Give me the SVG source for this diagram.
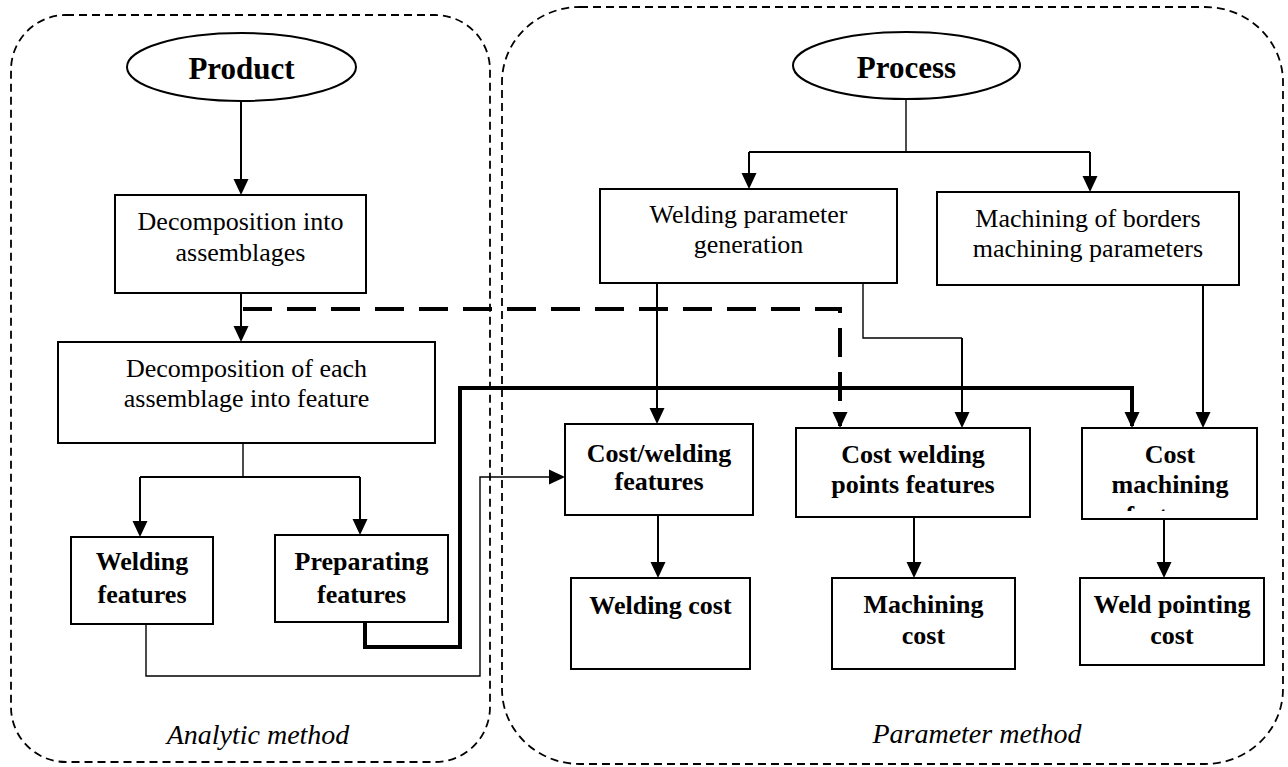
<svg xmlns="http://www.w3.org/2000/svg" width="1288" height="767" viewBox="0 0 1288 767">
<style>
.region{fill:none;stroke:#000;stroke-width:1.8;stroke-dasharray:8 5}
.box{fill:#fff;stroke:#000;stroke-width:2}
.t{font-family:"Liberation Serif","Times New Roman",serif;font-size:26px;text-anchor:middle;fill:#000}
.b{font-weight:bold}
.title{font-family:"Liberation Serif","Times New Roman",serif;font-size:31px;font-weight:bold;text-anchor:middle;fill:#000}
.cap{font-family:"Liberation Serif","Times New Roman",serif;font-size:28px;font-style:italic;text-anchor:middle;fill:#000}
.c{fill:none;stroke:#000;stroke-width:2}
.thin{fill:none;stroke:#000;stroke-width:1.4}
.thick{fill:none;stroke:#000;stroke-width:4}
.dash{fill:none;stroke:#000;stroke-width:4;stroke-dasharray:29 15}
</style>
<defs>
<marker id="ah" markerUnits="userSpaceOnUse" markerWidth="16" markerHeight="16" viewBox="0 0 16 16" refX="14" refY="8" orient="auto">
<path d="M0,0.5 L16,8 L0,15.5 z" fill="#000"/>
</marker>
<clipPath id="clipCM"><rect x="1082" y="428" width="175" height="83"/></clipPath>
</defs>

<g id="regions">
<rect id="analytic-region" class="region" x="11" y="15" width="479" height="747" rx="55" ry="55"/>
<rect id="parameter-region" class="region" x="502" y="7" width="781" height="757" rx="78" ry="75"/>
<text class="cap" x="258" y="744">Analytic method</text>
<text class="cap" x="977" y="743">Parameter method</text>
</g>

<g id="connectors">
<path class="c" d="M241,101 V193" marker-end="url(#ah)"/>
<path class="c" d="M241,293 V340" marker-end="url(#ah)"/>
<path class="thin" d="M243,443 V477"/>
<path class="c" d="M140,477 H360"/>
<path class="c" d="M140,477 V535" marker-end="url(#ah)"/>
<path class="c" d="M360,477 V533" marker-end="url(#ah)"/>
<path class="dash" d="M243,309 H840 V426" marker-end="url(#ah)"/>
<path class="thin" d="M906,99 V152"/>
<path class="c" d="M749,152 H1090"/>
<path class="c" d="M749,152 V187" marker-end="url(#ah)"/>
<path class="c" d="M1090,152 V190" marker-end="url(#ah)"/>
<path class="c" d="M657,283 V422" marker-end="url(#ah)"/>
<path class="thin" d="M863,283 V338 H962"/>
<path class="c" d="M962,338 V426" marker-end="url(#ah)"/>
<path class="c" d="M1203,285 V426" marker-end="url(#ah)"/>
<path class="thick" d="M365,622 V647 H460 V388 H1132 V426" marker-end="url(#ah)"/>
<path class="thin" d="M146,624 V676 H480 V477 H563" marker-end="url(#ah)"/>
<path class="c" d="M658,515 V576" marker-end="url(#ah)"/>
<path class="c" d="M914,517 V576" marker-end="url(#ah)"/>
<path class="c" d="M1164,519 V576" marker-end="url(#ah)"/>
</g>

<g id="product">
<ellipse class="box" cx="241.5" cy="67" rx="114.5" ry="34"/>
<text class="title" x="241.5" y="79">Product</text>
</g>
<g id="process">
<ellipse class="box" cx="906.5" cy="65.5" rx="113.5" ry="33.5"/>
<text class="title" x="906.5" y="78">Process</text>
</g>
<g id="decomp-assemblages">
<rect class="box" x="115" y="195" width="251" height="98"/>
<text class="t" x="240.5" y="230">Decomposition into</text>
<text class="t" x="240.5" y="261">assemblages</text>
</g>
<g id="decomp-features">
<rect class="box" x="58" y="342" width="377" height="101"/>
<text class="t" x="246.5" y="377">Decomposition of each</text>
<text class="t" x="246.5" y="407">assemblage into feature</text>
</g>
<g id="welding-features">
<rect class="box" x="71" y="537" width="142" height="87"/>
<text class="t b" x="142" y="570">Welding</text>
<text class="t b" x="142" y="603">features</text>
</g>
<g id="preparating-features">
<rect class="box" x="275" y="535" width="173" height="87"/>
<text class="t b" x="361.5" y="570">Preparating</text>
<text class="t b" x="361.5" y="603">features</text>
</g>
<g id="welding-parameter">
<rect class="box" x="600" y="189" width="297" height="94"/>
<text class="t" x="748.5" y="223">Welding parameter</text>
<text class="t" x="748.5" y="253">generation</text>
</g>
<g id="machining-parameters">
<rect class="box" x="937" y="192" width="302" height="93"/>
<text class="t" x="1088" y="227">Machining of borders</text>
<text class="t" x="1088" y="257">machining parameters</text>
</g>
<g id="cost-welding-features">
<rect class="box" x="565" y="424" width="188" height="91"/>
<text class="t b" x="659" y="462">Cost/welding</text>
<text class="t b" x="659" y="490">features</text>
</g>
<g id="cost-welding-points">
<rect class="box" x="796" y="428" width="234" height="89"/>
<text class="t b" x="913" y="463">Cost welding</text>
<text class="t b" x="913" y="493">points features</text>
</g>
<g id="cost-machining">
<rect class="box" x="1082" y="428" width="175" height="91"/>
<text class="t b" x="1170" y="463">Cost</text>
<text class="t b" x="1170" y="493">machining</text>
<text class="t b" x="1170" y="524" clip-path="url(#clipCM)">features</text>
</g>
<g id="welding-cost">
<rect class="box" x="571" y="578" width="179" height="91"/>
<text class="t b" x="660.5" y="614">Welding cost</text>
</g>
<g id="machining-cost">
<rect class="box" x="832" y="578" width="183" height="91"/>
<text class="t b" x="923.5" y="613">Machining</text>
<text class="t b" x="923.5" y="644">cost</text>
</g>
<g id="weld-pointing-cost">
<rect class="box" x="1080" y="578" width="184" height="87"/>
<text class="t b" x="1172" y="613">Weld pointing</text>
<text class="t b" x="1172" y="644">cost</text>
</g>
</svg>
